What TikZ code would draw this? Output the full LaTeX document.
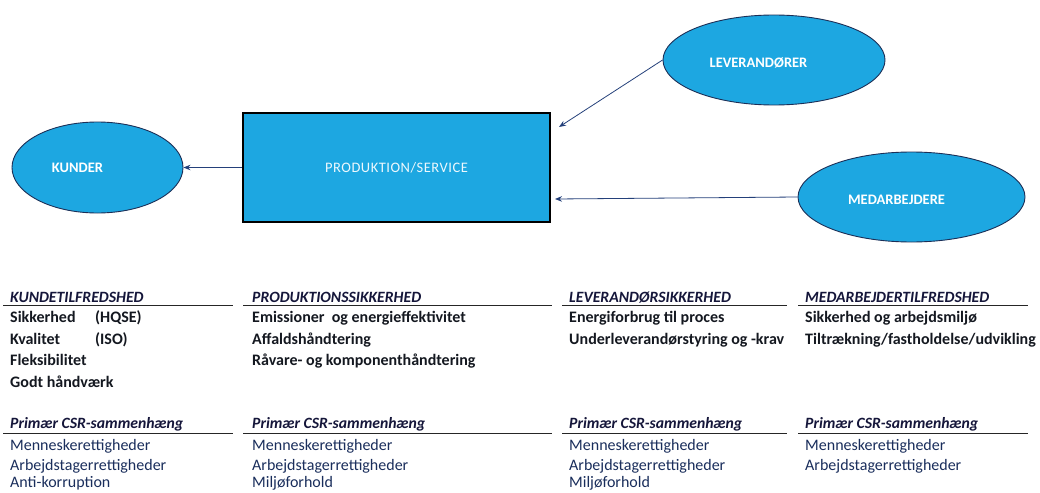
\documentclass[tikz,border=0pt]{standalone}
\usepackage{fontspec}
\setmainfont{Carlito}
\usetikzlibrary{shapes.geometric,arrows.meta}
\definecolor{fillblue}{HTML}{1DA7E1}
\definecolor{edgenavy}{HTML}{1C2F57}
\definecolor{headink}{HTML}{15163A}
\definecolor{bodyink}{HTML}{141820}
\definecolor{csrink}{HTML}{1A2E5C}
\definecolor{arrowink}{HTML}{24407A}
\begin{document}
\begin{tikzpicture}[x=1pt,y=-1pt,
  ell/.style={ellipse,draw=edgenavy,line width=0.9pt,fill=fillblue,inner sep=0pt},
  elltext/.style={text=white,font=\fontsize{14.5}{17}\selectfont\bfseries,inner sep=0pt},
  procbox/.style={rectangle,draw=black,line width=1.8pt,fill=fillblue,minimum width=307pt,minimum height=109pt,inner sep=0pt,text=white!92!fillblue,font=\fontsize{14.5}{17}\selectfont},
  arr/.style={draw=arrowink,line width=0.8pt,-{Stealth[length=7pt,width=5.5pt]}},
  hdr/.style={anchor=base west,inner sep=0pt,text=headink,font=\fontsize{15.7}{18}\selectfont\bfseries\itshape},
  itm/.style={anchor=base west,inner sep=0pt,text=bodyink,font=\fontsize{16}{19}\selectfont\bfseries},
  csr/.style={anchor=base west,inner sep=0pt,text=csrink,font=\fontsize{16}{19}\selectfont},
  rule/.style={draw=black!85,line width=0.9pt}
]
\useasboundingbox (0,0) rectangle (1040,492);
\clip (0,0) rectangle (1040,492);
\fill[white] (0,0) rectangle (1040,492);

% diagram
\node[ell,minimum width=171pt,minimum height=91pt] (kunder) at (97.5,167.5) {};
\node[elltext] (kunderlbl) at (77.5,168) {KUNDER};
\node[procbox] (prod) at (396.5,167.5) {P\kern0.5ptR\kern0.5ptO\kern0.5ptD\kern0.5ptU\kern0.5ptK\kern0.5ptT\kern0.5ptI\kern0.5ptO\kern0.5ptN\kern0.5pt/\kern0.5ptS\kern0.5ptE\kern0.5ptR\kern0.5ptV\kern0.5ptI\kern0.5ptC\kern0.5ptE};
\node[ell,minimum width=222pt,minimum height=90pt] (lev) at (774,60) {};
\node[elltext] (levlbl) at (758.5,63) {LEVERANDØRER};
\node[ell,minimum width=227pt,minimum height=90pt] (med) at (911.5,197) {};
\node[elltext] (medlbl) at (896.5,200) {MEDARBEJDERE};

\coordinate (levtip) at (559,127);
\coordinate (medtip) at (555,199);
\draw[arr] (prod.west) -- (kunder.east);
\draw[arr] (lev.west) -- (levtip);
\draw[arr] (med.west) -- (medtip);

% column 1
\node[hdr] (h1) at (10,302) {KUNDETILFREDSHED};
\draw[rule] (3,305.5) -- (233,305.5);
\node[itm] (a1) at (10,322.5) {\makebox[85pt][l]{Sikkerhed}(HQSE)};
\node[itm] (a2) at (10,344) {\makebox[85pt][l]{Kvalitet}(ISO)};
\node[itm] (a3) at (10,365.5) {Fleksibilitet};
\node[itm] (a4) at (10,387) {Godt håndværk};
\node[hdr] (c1) at (10,428.5) {Primær CSR-sammenhæng};
\draw[rule] (3,433.5) -- (233,433.5);
\node[csr] (b1) at (10,450) {Menneskerettigheder};
\node[csr] (b2) at (10,470) {Arbejdstagerrettigheder};
\node[csr] (b3) at (10,487.5) {Anti-korruption};

% column 2
\node[hdr] (h2) at (252,302) {PRODUKTIONSSIKKERHED};
\draw[rule] (243,305.5) -- (552,305.5);
\node[itm] (d1) at (252,322.5) {Emissioner\ \ og energieffektivitet};
\node[itm] (d2) at (252,344) {Affaldshåndtering};
\node[itm] (d3) at (252,365.5) {Råvare- og komponenthåndtering};
\node[hdr] (c2) at (252,428.5) {Primær CSR-sammenhæng};
\draw[rule] (243,433.5) -- (552,433.5);
\node[csr] (e1) at (252,450) {Menneskerettigheder};
\node[csr] (e2) at (252,470) {Arbejdstagerrettigheder};
\node[csr] (e3) at (252,487.5) {Miljøforhold};

% column 3
\node[hdr] (h3) at (569,302) {LEVERANDØRSIKKERHED};
\draw[rule] (562,305.5) -- (787,305.5);
\node[itm] (f1) at (569,322.5) {Energiforbrug til proces};
\node[itm] (f2) at (569,344) {Underleverandørstyring og -krav};
\node[hdr] (c3) at (569,428.5) {Primær CSR-sammenhæng};
\draw[rule] (562,433.5) -- (787,433.5);
\node[csr] (g1) at (569,450) {Menneskerettigheder};
\node[csr] (g2) at (569,470) {Arbejdstagerrettigheder};
\node[csr] (g3) at (569,487.5) {Miljøforhold};

% column 4
\node[hdr] (h4) at (805,302) {MEDARBEJDERTILFREDSHED};
\draw[rule] (798,305.5) -- (1028,305.5);
\node[itm] (k1) at (805,322.5) {Sikkerhed og arbejdsmiljø};
\node[itm] (k2) at (805,344) {Tiltrækning/fastholdelse/udvikling};
\node[hdr] (c4) at (805,428.5) {Primær CSR-sammenhæng};
\draw[rule] (798,433.5) -- (1028,433.5);
\node[csr] (m1) at (805,450) {Menneskerettigheder};
\node[csr] (m2) at (805,470) {Arbejdstagerrettigheder};
\end{tikzpicture}
\end{document}
